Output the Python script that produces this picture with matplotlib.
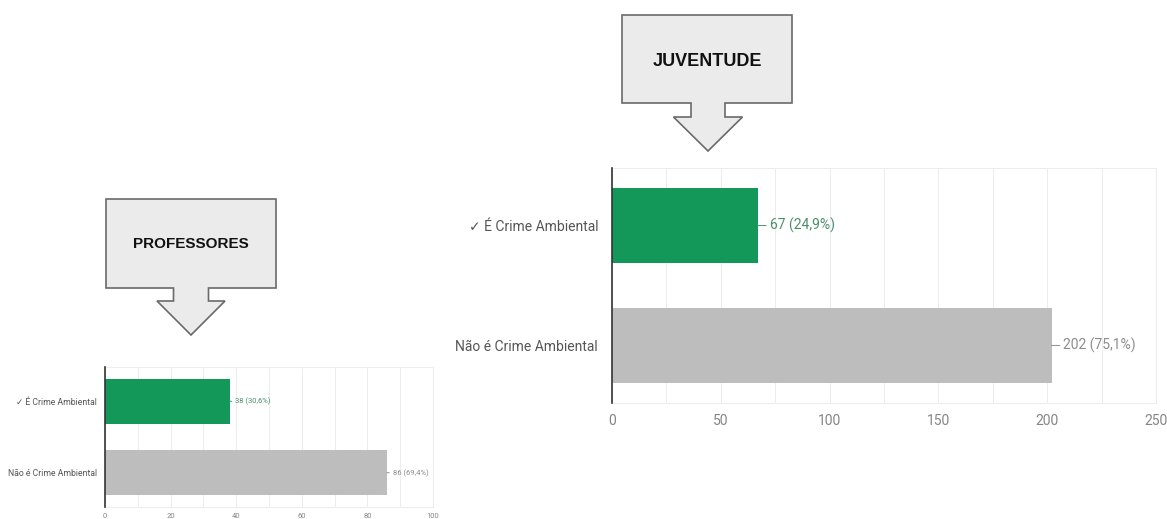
import matplotlib
matplotlib.use('Agg')
import matplotlib.pyplot as plt
from matplotlib.patches import Polygon

plt.rcParams['font.family'] = ['Roboto', 'DejaVu Sans']

W, H = 1167, 519

categorias = ['✓ É Crime Ambiental', 'Não é Crime Ambiental']

juventude = [67, 202]
juventude_pct = ['24,9%', '75,1%']

professores = [38, 86]
professores_pct = ['30,6%', '69,4%']

cores = ['#13985a', '#bdbdbd']
cores_txt = ['#4a8f6a', '#8c8c8c']


def px_axes(x0, y0, x1, y1):
    # pixel box (y going down) -> figure fraction rect
    return [x0 / W, 1 - y1 / H, (x1 - x0) / W, (y1 - y0) / H]


def grafico(ax, valores, pcts, xmax, passo, passo_grade, fs_cat, fs_tick, fs_val,
            pad_cat, pad_tick, off_val):
    y = list(range(len(valores)))
    ax.barh(y, valores, height=0.63, color=cores, zorder=2)
    ax.set_xlim(0, xmax)
    ax.set_ylim(1.48, -0.48)

    ax.set_yticks(y)
    ax.set_yticklabels(categorias, fontsize=fs_cat, color='#555555')
    ax.set_xticks(range(0, xmax + 1, passo))
    ax.set_xticks(range(0, xmax + 1, passo_grade), minor=True)
    ax.tick_params(axis='x', which='both', length=0, pad=pad_tick,
                   labelsize=fs_tick, labelcolor='#858585')
    ax.tick_params(axis='y', length=0, pad=pad_cat)
    ax.grid(axis='x', which='both', color='#ededed', lw=0.8, zorder=0)
    ax.set_axisbelow(True)

    for lado in ['top', 'bottom', 'right']:
        ax.spines[lado].set_color('#ededed')
        ax.spines[lado].set_linewidth(0.8)
    ax.spines['left'].set_color('#333333')
    ax.spines['left'].set_linewidth(1.2)
    ax.spines['left'].set_zorder(3)

    for i, (v, p) in enumerate(zip(valores, pcts)):
        ax.annotate('%d (%s)' % (v, p), xy=(v, i), xytext=(off_val, 0),
                    textcoords='offset points', ha='left', va='center',
                    fontsize=fs_val, color=cores_txt[i],
                    arrowprops=dict(arrowstyle='-', color=cores_txt[i], lw=0.7,
                                    shrinkA=0.5, shrinkB=0))


def seta(fig, x0, x1, y0, y1, cx, meia_haste, y_base, meia_ponta, y_ponta, texto, ty, fs):
    pts = [(x0, y0), (x1, y0), (x1, y1), (cx + meia_haste, y1),
           (cx + meia_haste, y_base), (cx + meia_ponta, y_base), (cx, y_ponta),
           (cx - meia_ponta, y_base), (cx - meia_haste, y_base),
           (cx - meia_haste, y1), (x0, y1)]
    pts = [(x / W, 1 - y / H) for x, y in pts]
    fig.patches.append(Polygon(pts, closed=True, facecolor='#ebebeb', edgecolor='#6a6a6a',
                               lw=1.2, transform=fig.transFigure, figure=fig))
    fig.text((x0 + x1) / 2 / W, 1 - ty / H, texto, ha='center', va='center',
             fontsize=fs, fontweight='bold', color='#111111', family='Liberation Sans')


fig = plt.figure(figsize=(W / 100, H / 100), dpi=100, facecolor='white')

ax_j = fig.add_axes(px_axes(612, 168, 1156, 403))
grafico(ax_j, juventude, juventude_pct, 250, 50, 25, 10, 10, 10, 10, 8, 8.5)

ax_p = fig.add_axes(px_axes(105, 367, 433, 507))
grafico(ax_p, professores, professores_pct, 100, 20, 10, 6.2, 5.5, 5.5, 5.5, 4, 4)

seta(fig, 622, 792, 15, 103, 708, 17, 117, 34.5, 151, 'JUVENTUDE', 61, 13)
seta(fig, 106, 276, 199, 288, 191, 17.5, 301, 34, 335, 'PROFESSORES', 244, 11)

fig.savefig('out.png', dpi=100, facecolor='white')
